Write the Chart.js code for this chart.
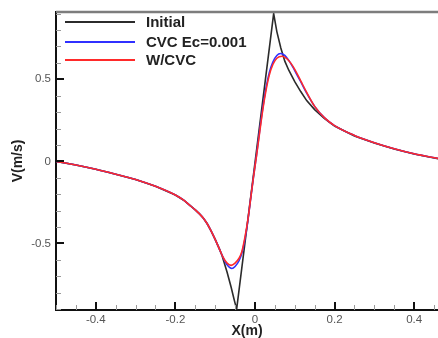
<!DOCTYPE html>
<html><head><meta charset="utf-8">
<script src="https://cdn.jsdelivr.net/npm/chart.js@4"></script>
<style>html,body{margin:0;padding:0;background:#fff;}canvas{display:block;}</style>
</head><body>
<canvas id="c" width="438" height="338"></canvas>
<script>
const seriesNames = ['Initial', 'CVC Ec=0.001', 'W/CVC'];
const xTickValues = [-0.4, -0.2, 0, 0.2, 0.4];
const yTickValues = [-0.5, 0, 0.5];
const xTitle = 'X(m)';
const yTitle = 'V(m/s)';

const initialX = [-0.5,-0.45,-0.4,-0.35,-0.3,-0.25,-0.2,-0.18,-0.165,-0.15,-0.14,-0.13,-0.12,-0.11,-0.1,-0.09,-0.083,-0.07,-0.06,-0.052,-0.046,0.047,0.055,0.065,0.075,0.085,0.1,0.115,0.13,0.15,0.175,0.2,0.25,0.3,0.35,0.4,0.46];
const initialV = [0,-0.022,-0.048,-0.078,-0.11,-0.152,-0.205,-0.235,-0.265,-0.295,-0.318,-0.345,-0.38,-0.425,-0.475,-0.53,-0.572,-0.675,-0.765,-0.845,-0.9,0.9,0.79,0.69,0.61,0.555,0.485,0.425,0.37,0.315,0.26,0.215,0.155,0.112,0.075,0.045,0.016];

const cvcX = [-0.5,-0.45,-0.4,-0.35,-0.3,-0.25,-0.2,-0.18,-0.165,-0.15,-0.14,-0.13,-0.12,-0.11,-0.1,-0.09,-0.08,-0.07,-0.058,-0.05,-0.04,-0.033,-0.025,-0.018,-0.012,-0.004,0.004,0.012,0.02,0.028,0.036,0.045,0.055,0.064,0.075,0.085,0.095,0.105,0.115,0.13,0.15,0.175,0.2,0.25,0.3,0.35,0.4,0.46];
const cvcV = [0,-0.022,-0.048,-0.078,-0.11,-0.152,-0.205,-0.235,-0.265,-0.295,-0.318,-0.345,-0.38,-0.425,-0.475,-0.53,-0.585,-0.63,-0.652,-0.64,-0.605,-0.56,-0.47,-0.365,-0.25,-0.1,0.04,0.19,0.33,0.45,0.54,0.605,0.645,0.657,0.645,0.615,0.575,0.53,0.485,0.415,0.335,0.265,0.218,0.158,0.114,0.077,0.046,0.018];

const wcvcX = [-0.5,-0.45,-0.4,-0.35,-0.3,-0.25,-0.2,-0.18,-0.165,-0.15,-0.14,-0.13,-0.12,-0.11,-0.1,-0.09,-0.08,-0.07,-0.06,-0.05,-0.04,-0.033,-0.025,-0.018,-0.012,-0.004,0.004,0.012,0.02,0.028,0.036,0.045,0.055,0.068,0.08,0.09,0.1,0.115,0.13,0.15,0.175,0.2,0.25,0.3,0.35,0.4,0.46];
const wcvcV = [0,-0.022,-0.048,-0.078,-0.11,-0.152,-0.205,-0.235,-0.265,-0.295,-0.318,-0.345,-0.38,-0.425,-0.475,-0.53,-0.585,-0.62,-0.633,-0.62,-0.59,-0.55,-0.46,-0.36,-0.25,-0.1,0.035,0.18,0.32,0.435,0.525,0.59,0.628,0.64,0.625,0.598,0.56,0.49,0.42,0.335,0.265,0.218,0.158,0.114,0.077,0.046,0.018];

const xMinorStep = 0.05;
const yMinorStep = 0.1;
const colors = ['#2b2b2b', '#3030ff', '#ff2a2a'];
const FONT = "'Liberation Sans', Arial, sans-serif";

function pts(xs, vs) { return xs.map((x, i) => ({x: x, y: vs[i]})); }

const framePlugin = {
  id: 'framePlugin',
  afterDatasetsDraw(chart) {
    const {ctx, chartArea: a, scales: {x, y}} = chart;
    ctx.save();
    ctx.strokeStyle = '#7d7d7d'; ctx.lineWidth = 2.5;
    ctx.beginPath(); ctx.moveTo(a.left, a.top); ctx.lineTo(a.right, a.top); ctx.stroke();
    ctx.strokeStyle = '#9a9a9a'; ctx.lineWidth = 1;
    for (let i = Math.ceil(x.min / xMinorStep - 1e-6); i * xMinorStep <= x.max + 1e-9; i++) {
      const px = Math.round(x.getPixelForValue(i * xMinorStep)) + 0.5;
      ctx.beginPath(); ctx.moveTo(px, a.bottom); ctx.lineTo(px, a.bottom - 5); ctx.stroke();
    }
    for (let i = Math.ceil(y.min / yMinorStep - 1e-6); i * yMinorStep <= y.max + 1e-9; i++) {
      const py = Math.round(y.getPixelForValue(i * yMinorStep)) + 0.5;
      ctx.beginPath(); ctx.moveTo(a.left, py); ctx.lineTo(a.left + 5, py); ctx.stroke();
    }
    ctx.strokeStyle = '#111'; ctx.lineWidth = 2;
    xTickValues.forEach(v => {
      const px = Math.round(x.getPixelForValue(v));
      ctx.beginPath(); ctx.moveTo(px, a.bottom); ctx.lineTo(px, a.bottom - 8); ctx.stroke();
    });
    yTickValues.forEach(v => {
      const py = Math.round(y.getPixelForValue(v));
      ctx.beginPath(); ctx.moveTo(a.left, py); ctx.lineTo(a.left + 8, py); ctx.stroke();
    });
    const rows = [a.top + 10, a.top + 30, a.top + 48];
    ctx.font = "bold 15px " + FONT;
    ctx.textBaseline = 'middle';
    ctx.textAlign = 'left';
    chart.data.datasets.forEach((ds, i) => {
      ctx.strokeStyle = ds.borderColor; ctx.lineWidth = 2;
      ctx.beginPath(); ctx.moveTo(a.left + 9, rows[i]); ctx.lineTo(a.left + 79, rows[i]); ctx.stroke();
      ctx.fillStyle = '#222';
      ctx.fillText(ds.label, a.left + 90, rows[i] + 0.5);
    });
    ctx.restore();
  }
};

new Chart(document.getElementById('c'), {
  type: 'line',
  data: {
    datasets: [
      {label: seriesNames[0], data: pts(initialX, initialV), borderColor: colors[0], borderWidth: 1.6, tension: 0, pointRadius: 0, order: 2},
      {label: seriesNames[1], data: pts(cvcX, cvcV), borderColor: colors[1], borderWidth: 1.6, cubicInterpolationMode: 'monotone', pointRadius: 0, order: 1},
      {label: seriesNames[2], data: pts(wcvcX, wcvcV), borderColor: colors[2], borderWidth: 1.6, cubicInterpolationMode: 'monotone', pointRadius: 0, order: 0}
    ]
  },
  options: {
    responsive: false,
    animation: false,
    devicePixelRatio: 1,
    layout: {padding: {top: 9, right: 0, left: 0, bottom: 0}},
    plugins: {legend: {display: false}, tooltip: {enabled: false}},
    scales: {
      x: {
        type: 'linear', position: 'bottom', min: -0.5, max: 0.46,
        afterBuildTicks: s => { s.ticks = xTickValues.map(v => ({value: v})); },
        afterFit: s => { s.height = 28; },
        grid: {display: false, drawTicks: false},
        border: {display: true, color: '#111', width: 2},
        ticks: {color: '#555', font: {family: FONT, size: 11.5}, padding: 3, maxRotation: 0,
                callback: v => String(v)},
        title: {display: true, text: xTitle, color: '#222', font: {family: FONT, size: 14, weight: 'bold', lineHeight: 1}, padding: 0}
      },
      y: {
        type: 'linear', position: 'left', min: -0.905, max: 0.91,
        afterBuildTicks: s => { s.ticks = yTickValues.map(v => ({value: v})); },
        afterFit: s => { s.width = 56; },
        grid: {display: false, drawTicks: false},
        border: {display: true, color: '#111', width: 2},
        ticks: {color: '#555', font: {family: FONT, size: 11.5}, padding: 5,
                callback: v => String(v)},
        title: {display: true, text: yTitle, color: '#222', font: {family: FONT, size: 14, weight: 'bold', lineHeight: 1}, padding: {top: 11, bottom: 0}}
      }
    }
  },
  plugins: [framePlugin]
});
</script>
</body></html>
